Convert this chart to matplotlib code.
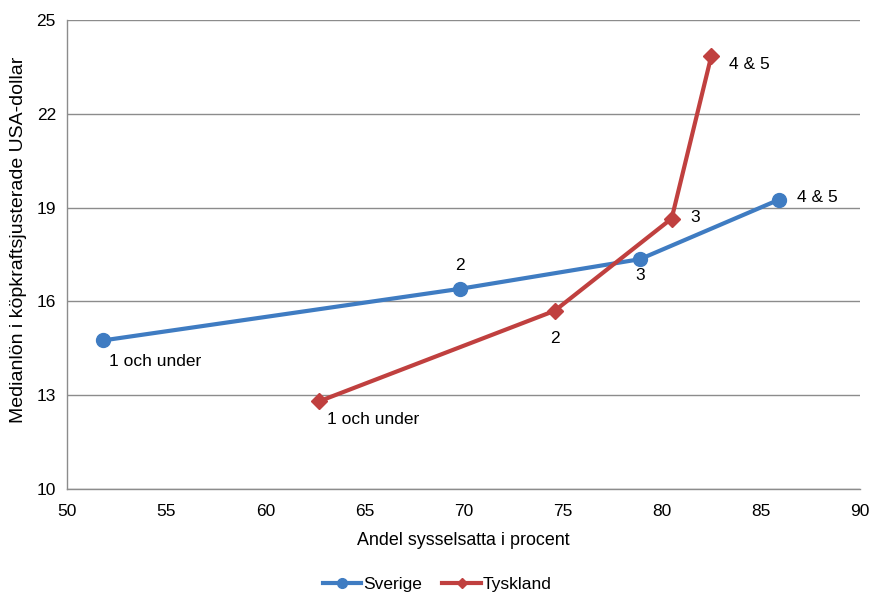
import matplotlib
matplotlib.use("Agg")
import matplotlib.pyplot as plt

plt.rcParams['font.family'] = ['Liberation Sans', 'DejaVu Sans']

labels = ["1 och under", "2", "3", "4 & 5"]
sverige_x = [51.8, 69.8, 78.9, 85.9]
sverige_y = [14.75, 16.4, 17.35, 19.25]
tyskland_x = [62.7, 74.6, 80.5, 82.5]
tyskland_y = [12.8, 15.7, 18.65, 23.85]

blue = "#3F7CC2"
red = "#C0403F"

fig = plt.figure(figsize=(8.74, 5.92), dpi=100)
ax = fig.add_axes([67/874, 103/592, (860-67)/874, (489-20)/592])

ax.plot(sverige_x, sverige_y, color=blue, lw=3, marker='o', ms=10, label="Sverige", zorder=3)
ax.plot(tyskland_x, tyskland_y, color=red, lw=3, marker='D', ms=8, label="Tyskland", zorder=3)

fs = 12.5
sv_off = [(4.3, -15, 'left', 'center'), (0, 17, 'center', 'center'), (0, -12, 'center', 'center'), (13.5, 2, 'left', 'center')]
for x, y, t, (dx, dy, ha, va) in zip(sverige_x, sverige_y, labels, sv_off):
    ax.annotate(t, (x, y), xytext=(dx, dy), textcoords='offset points', ha=ha, va=va, fontsize=fs)
ty_off = [(6, -13, 'left', 'center'), (0, -20, 'center', 'center'), (13.5, 1, 'left', 'center'), (13, -6.5, 'left', 'center')]
for x, y, t, (dx, dy, ha, va) in zip(tyskland_x, tyskland_y, labels, ty_off):
    ax.annotate(t, (x, y), xytext=(dx, dy), textcoords='offset points', ha=ha, va=va, fontsize=fs)

ax.set_xlim(50, 90)
ax.set_ylim(10, 25)
ax.set_xticks(range(50, 91, 5))
ax.set_yticks(range(10, 26, 3))
ax.tick_params(length=0, labelsize=fs)
ax.tick_params(axis='x', pad=11)
ax.tick_params(axis='y', pad=8)
ax.grid(axis='y', color='#8C8C8C', lw=1)
ax.set_axisbelow(True)
for s in ['top', 'right']:
    ax.spines[s].set_visible(False)
for s in ['left', 'bottom']:
    ax.spines[s].set_color('#8C8C8C')
    ax.spines[s].set_linewidth(1)

ax.set_xlabel("Andel sysselsatta i procent", fontsize=12.9, labelpad=9)
ax.set_ylabel("Medianlön i köpkraftsjusterade USA-dollar", fontsize=14)
ax.yaxis.set_label_coords(-0.05, 0.531)

fig.legend(handles=[ax.lines[0], ax.lines[1]], labels=["Sverige", "Tyskland"],
           loc='center', bbox_to_anchor=(0.5, 0.012), ncol=2, frameon=False,
           fontsize=fs, handlelength=2.2, columnspacing=1.2, handletextpad=0.1,
           markerscale=0.7)

fig.savefig("out.png", dpi=100)
